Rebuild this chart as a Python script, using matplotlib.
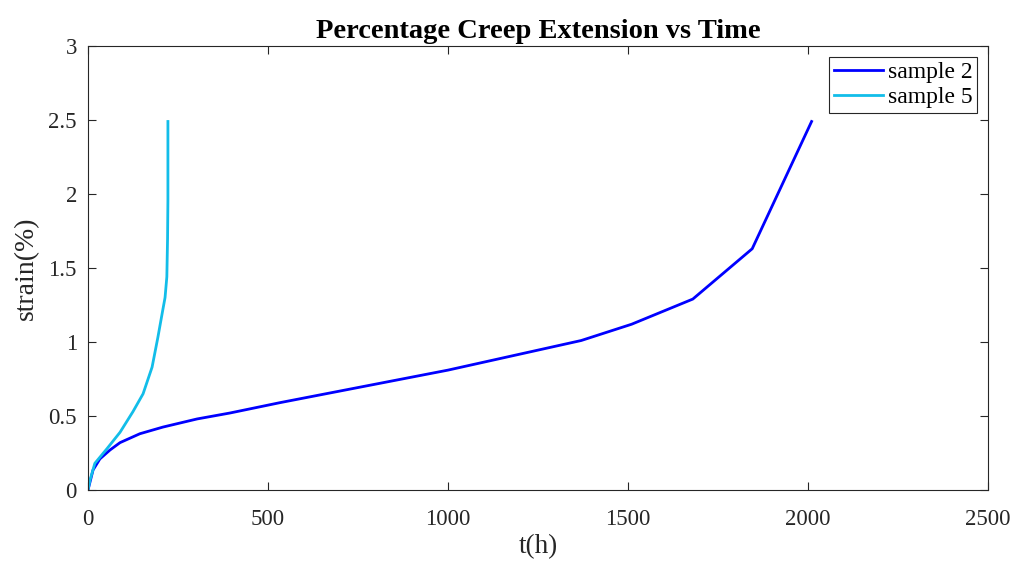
import matplotlib
matplotlib.use('Agg')
import matplotlib.pyplot as plt

plt.rcParams['font.family'] = 'Liberation Serif'

# sample 2 data
t2 = [0, 14, 33, 61, 89, 144, 208, 303, 394, 533, 1000, 1370, 1510, 1680, 1845, 2010]
s2 = [0, 0.135, 0.21, 0.27, 0.32, 0.38, 0.425, 0.48, 0.52, 0.59, 0.81, 1.01, 1.12, 1.29, 1.63, 2.49]

# sample 5 data
t5 = [0, 6, 19, 53, 89, 125, 153, 178, 194, 208, 214, 219, 221, 222, 222]
s5 = [0, 0.07, 0.18, 0.28, 0.39, 0.53, 0.65, 0.83, 1.03, 1.22, 1.30, 1.44, 1.70, 1.96, 2.49]

fig = plt.figure(figsize=(10.15, 5.66), dpi=100)
ax = fig.add_axes([0.0867, 0.1343, 0.8867, 0.7844])

ax.plot(t2, s2, color='#0000ff', lw=2.0, label='sample 2')
ax.plot(t5, s5, color='#12bde9', lw=2.0, label='sample 5')

ax.set_xlim(0, 2500)
ax.set_ylim(0, 3)
ax.set_xticks([0, 500, 1000, 1500, 2000, 2500])
ax.set_yticks([0, 0.5, 1, 1.5, 2, 2.5, 3])
ax.set_yticklabels(['0', '0.5', '1', '1.5', '2', '2.5', '3'])
ax.tick_params(direction='in', top=True, right=True, labelsize=16.5,
               color='#262626', labelcolor='#262626', length=6)
ax.tick_params(axis='x', pad=14)
ax.tick_params(axis='y', pad=8)
for sp in ax.spines.values():
    sp.set_color('#262626')
    sp.set_linewidth(0.8)

ax.set_xlabel('t(h)', fontsize=19.5, color='#262626', labelpad=3)
ax.set_ylabel('strain(%)', fontsize=20, color='#262626', labelpad=7)
ax.set_title('Percentage Creep Extension vs Time', fontsize=20.5, fontweight='bold', pad=6)

leg = ax.legend(loc='upper right', fontsize=17, fancybox=False, framealpha=1,
                edgecolor='#262626', handlelength=2.1, borderaxespad=0.45,
                labelspacing=0.15, borderpad=0.2, handletextpad=0.2)
leg.get_frame().set_linewidth(0.8)

fig.savefig('out.png', dpi=100)
